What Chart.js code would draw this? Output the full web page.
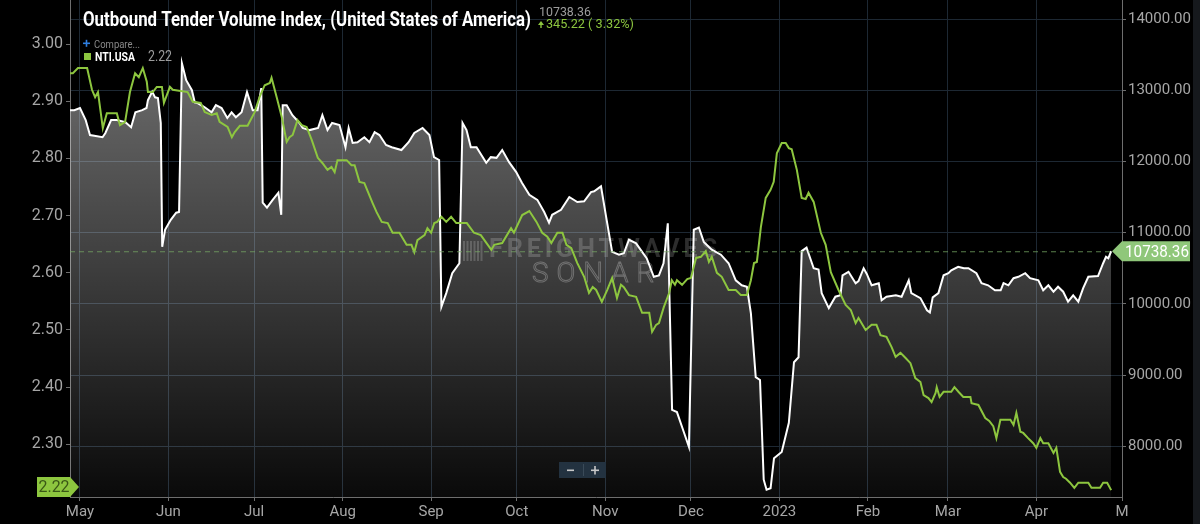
<!DOCTYPE html>
<html><head><meta charset="utf-8">
<script src="https://cdn.jsdelivr.net/npm/chart.js@4.4.1/dist/chart.umd.min.js"></script>
<style>html,body{margin:0;padding:0;background:#000;overflow:hidden}#wrap{width:1200px;height:524px;position:relative}</style>
</head><body><div id="wrap"><canvas id="c" width="1200" height="524"></canvas></div>
<script>
// Day offsets are counted from 2022-05-01
const monthTickDays = [0,31,61,92,123,153,184,214,245,276,304,335,365];
const monthTickLabels = ['May','Jun','Jul','Aug','Sep','Oct','Nov','Dec','2023','Feb','Mar','Apr','M'];
const ntiTicks = [2.3,2.4,2.5,2.6,2.7,2.8,2.9,3.0];
const otviTicks = [8000,9000,10000,11000,12000,13000,14000];

const otviDays = [-3.5,-2.0,0,2.0,3.5,5.0,7.9,8.9,10.9,12.9,
15.9,17.9,19.4,21.8,23.3,23.8,25.3,26.3,27.3,28.3,
28.8,29.8,31.8,33.7,34.7,35.7,37.2,39.2,40.2,41.2,
43.7,46.1,47.6,49.6,51.6,53.1,54.6,56.6,58.5,60.5,
62.2,63.5,64.0,65.5,67.5,69.5,70.5,71.0,72.4,74.4,
76.9,78.0,80.4,83.4,84.9,86.7,88.3,90.9,93.0,94.1,
95.5,97.2,99.6,101.4,103.2,104.9,107.2,109.2,112.6,115.1,
117.1,120.0,122.4,124.0,125.8,126.6,128.3,130.4,132.9,134.0,
135.4,136.9,138.9,142.3,143.9,145.9,147.9,150.3,152.8,154.8,
157.4,160.2,162.6,164.3,165.4,168.5,171.4,174.2,176.6,179.0,
180.1,182.5,184.3,186.4,188.8,190.5,192.3,194.8,196.9,198.5,
201.0,202.8,204.4,205.9,207.4,209.1,210.9,213.3,215.0,216.8,
218.5,221.3,224.5,227.2,229.7,231.8,233.6,235.0,236.7,238.2,
239.5,240.5,241.9,243.1,245.8,248.3,250.1,251.7,252.8,254.5,
257.0,258.7,259.8,262.3,264.6,266.4,267.1,269.2,271.7,272.7,
274.5,275.6,277.3,279.8,280.8,282.5,285.8,287.8,290.3,291.2,
294.4,296.7,297.7,298.7,300.7,302.5,304.2,305.2,307.6,309.6,
311.2,314.0,315.8,318.1,320.5,322.5,323.5,325.2,327.0,328.7,
331.1,332.8,335.7,337.4,339.2,341.0,342.6,344.4,346.1,347.9,
349.7,351.4,353.2,356.6,358.4,359.4,360.2,361.2];
const otviValues = [12720,12720,12750,12580,12370,12360,12340,12400,12580,12580,
12550,12480,12690,12720,12750,12860,12980,12900,12890,12540,
10800,11040,11180,11280,11290,13380,13140,13000,12830,12820,
12760,12690,12790,12750,12610,12690,12620,12690,12975,12720,
12720,13030,11420,11350,11460,11560,11250,12790,12790,12650,
12540,12470,12440,12470,12650,12440,12540,12510,12200,12470,
12260,12270,12340,12270,12410,12370,12230,12200,12160,12270,
12400,12470,12370,12060,12020,9960,10150,10430,10570,12540,
12440,12200,12200,11980,12060,12050,12160,11990,11850,11700,
11530,11460,11290,11140,11250,11320,11500,11430,11440,11570,
11580,11650,11220,10730,10690,10710,10900,10850,10730,10640,
10380,10400,10570,11130,8510,8480,8270,7990,11040,11070,
10870,10760,10690,10570,10330,10260,10240,9870,8970,8930,
7530,7390,7410,7830,7920,8330,9180,9250,10740,10790,
10500,10480,10150,9940,10100,10120,10400,10450,10290,10320,
10500,10420,10260,10290,10050,10100,10120,10100,10330,10150,
10080,9910,9880,10090,10150,10400,10430,10470,10520,10500,
10500,10430,10290,10260,10190,10190,10290,10260,10360,10380,
10430,10360,10330,10190,10260,10170,10240,10170,10030,10120,
10030,10220,10380,10390,10570,10660,10640,10738.36];

const ntiDays = [-3.5,-2.5,-0.7,2.5,4.2,5.3,6.3,8.0,9.4,12.9,
14.0,15.8,17.5,19.3,20.6,22.0,23.4,23.8,25.5,26.9,
28.7,29.4,31.5,32.5,37.7,39.5,42.3,43.7,46.1,47.9,
48.9,51.7,53.2,54.2,56.0,58.7,61.2,62.9,64.7,66.5,
67.1,68.9,70.7,72.4,73.4,74.5,76.2,77.7,79.4,81.2,
83.3,84.9,86.7,88.1,89.2,90.2,93.4,95.1,96.2,97.9,
99.6,102.5,103.9,105.7,107.8,109.5,111.9,114.4,116.1,117.1,
118.2,120.7,121.7,123.0,124.1,125.1,126.6,128.3,130.0,131.8,
133.5,135.5,138.0,140.4,144.1,145.1,147.9,151.0,152.0,154.9,
157.4,159.9,161.9,163.7,165.1,167.2,169.0,170.4,172.1,174.2,
176.6,178.3,179.6,180.8,182.8,184.7,186.4,188.1,189.5,190.5,
192.3,194.8,196.9,199.4,200.4,201.8,202.8,204.5,206.4,207.3,
208.4,209.1,210.9,212.7,214.0,215.8,217.5,219.2,220.3,221.3,
223.1,224.8,227.2,229.7,231.5,233.6,235.0,236.1,237.1,238.5,
240.2,241.9,243.0,244.1,245.8,247.2,248.3,249.3,251.1,252.8,
254.2,255.2,257.0,259.5,261.2,263.0,265.7,268.2,270.0,271.7,
272.7,275.2,277.3,279.0,280.4,282.5,284.3,285.7,287.4,289.2,
290.9,292.6,294.4,295.5,297.2,298.3,299.7,300.1,301.1,302.5,
305.2,306.3,307.7,309.4,311.9,312.3,314.7,317.1,318.5,319.9,
321.0,322.4,325.9,327.0,328.0,329.4,330.4,332.1,333.9,335.0,
336.4,337.4,339.2,341.0,342.0,343.3,344.4,345.4,346.8,348.3,
349.7,353.2,354.3,357.3,358.4,359.8,361.2];
const ntiValues = [2.949,2.949,2.958,2.958,2.920,2.907,2.916,2.853,2.879,2.879,
2.858,2.864,2.916,2.949,2.942,2.958,2.934,2.916,2.916,2.925,
2.925,2.897,2.925,2.920,2.916,2.899,2.897,2.881,2.876,2.879,
2.864,2.855,2.837,2.846,2.857,2.857,2.881,2.907,2.928,2.932,
2.941,2.907,2.872,2.829,2.837,2.841,2.867,2.858,2.855,2.832,
2.801,2.792,2.780,2.785,2.776,2.797,2.797,2.788,2.788,2.759,
2.757,2.722,2.706,2.689,2.687,2.670,2.670,2.649,2.649,2.636,
2.657,2.666,2.678,2.670,2.687,2.689,2.698,2.689,2.698,2.687,
2.687,2.687,2.670,2.666,2.640,2.649,2.652,2.678,2.670,2.701,
2.708,2.689,2.670,2.663,2.652,2.670,2.670,2.649,2.643,2.617,
2.593,2.565,2.575,2.570,2.549,2.570,2.591,2.556,2.579,2.575,
2.561,2.558,2.530,2.530,2.497,2.509,2.512,2.540,2.565,2.587,
2.579,2.587,2.579,2.589,2.591,2.626,2.628,2.638,2.619,2.628,
2.600,2.593,2.570,2.570,2.561,2.561,2.587,2.617,2.619,2.680,
2.731,2.745,2.759,2.809,2.827,2.827,2.818,2.816,2.780,2.731,
2.729,2.740,2.724,2.670,2.649,2.601,2.570,2.544,2.535,2.512,
2.521,2.500,2.509,2.509,2.491,2.488,2.470,2.453,2.460,2.451,
2.442,2.416,2.409,2.386,2.381,2.374,2.390,2.400,2.383,2.392,
2.392,2.400,2.392,2.383,2.383,2.372,2.369,2.346,2.341,2.332,
2.311,2.343,2.343,2.334,2.355,2.322,2.320,2.311,2.302,2.294,
2.311,2.302,2.302,2.285,2.294,2.252,2.243,2.240,2.233,2.224,
2.233,2.233,2.224,2.224,2.233,2.233,2.220];

const titleText = 'Outbound Tender Volume Index, (United States of America)';
const headerValue = '10738.36';
const headerChange = '345.22 ( 3.32%)';
const ntiLabel = 'NTI.USA';

const FONT = "Roboto,'DejaVu Sans Condensed',sans-serif";
const GREEN = '#8dc63f';
const GRID = '#1d2833';
const AXIS = '#6e6e6e';
const TICKTXT = '#a6a6a6';

const otviLast = otviValues[otviValues.length - 1];
const ntiLast = ntiValues[ntiValues.length - 1];

const decor = {
  id: 'decor',
  beforeDraw(chart) {
    const c = chart.ctx;
    c.save(); c.fillStyle = '#000'; c.fillRect(0, 0, chart.width, chart.height); c.restore();
  },
  beforeDatasetsDraw(chart) {
    const c = chart.ctx, a = chart.chartArea;
    const cx = a.left + (a.right - a.left) * 0.5;
    const cy = a.top + (a.bottom - a.top) * 0.505;
    c.save();
    c.textAlign = 'left'; c.textBaseline = 'middle';
    c.fillStyle = 'rgba(150,150,150,0.30)';
    for (let i = 0; i < 6; i++) c.fillRect(cx - 133 + i * 3.5, cy - 10, 2, 20);
    c.font = `bold 25px ${FONT}`;
    c.letterSpacing = '4px';
    c.fillText('FREIGHTWAVES', cx - 107, cy, 240);
    c.font = `300 28px ${FONT}`;
    c.letterSpacing = '8px';
    c.strokeStyle = 'rgba(150,150,150,0.45)';
    c.lineWidth = 1;
    c.strokeText('SONAR', cx - 64, cy + 24, 130);
    c.restore();
  },
  afterDraw(chart) {
    const c = chart.ctx, a = chart.chartArea;
    const yR = chart.scales.yR, yL = chart.scales.yL;
    c.save();
    // last value dashed line
    const yo = yR.getPixelForValue(otviLast);
    c.setLineDash([5, 4]);
    c.strokeStyle = 'rgba(120,170,100,0.75)';
    c.lineWidth = 1;
    c.beginPath(); c.moveTo(a.left, yo + 0.5); c.lineTo(a.right - 10, yo + 0.5); c.stroke();
    c.setLineDash([]);
    // right tag
    c.fillStyle = '#8fc77a';
    c.beginPath();
    c.moveTo(a.right - 10, yo); c.lineTo(a.right, yo - 10); c.lineTo(a.right + 68, yo - 10);
    c.lineTo(a.right + 68, yo + 10); c.lineTo(a.right, yo + 10); c.closePath(); c.fill();
    c.fillStyle = '#ffffff'; c.font = `17px ${FONT}`; c.textAlign = 'left'; c.textBaseline = 'middle';
    c.fillText(otviLast.toFixed(2), a.right + 3, yo + 1, 64);
    // left tag
    const yn = Math.min(yL.getPixelForValue(ntiLast), a.bottom - 10);
    c.fillStyle = GREEN;
    c.beginPath();
    c.moveTo(37, yn - 10); c.lineTo(a.left, yn - 10); c.lineTo(a.left + 9, yn);
    c.lineTo(a.left, yn + 10); c.lineTo(37, yn + 10); c.closePath(); c.fill();
    c.fillStyle = '#3a5716'; c.font = `17px ${FONT}`; c.textAlign = 'center';
    c.fillText(ntiLast.toFixed(2), 54, yn + 1, 31);
    // title
    c.textAlign = 'left'; c.textBaseline = 'alphabetic';
    c.fillStyle = '#ffffff'; c.font = `bold 21px ${FONT}`;
    c.fillText(titleText, 83, 26, 448);
    c.fillStyle = '#9c9c9c'; c.font = `13px ${FONT}`;
    c.fillText(headerValue, 539, 16, 52);
    c.fillStyle = GREEN;
    c.beginPath(); c.moveTo(541, 21); c.lineTo(544, 25); c.lineTo(538, 25); c.closePath(); c.fill();
    c.fillRect(540.3, 25, 1.4, 3);
    c.font = `13px ${FONT}`;
    c.fillText(headerChange, 546, 28, 88);
    // legend
    c.fillStyle = '#2f7fe0'; c.fillRect(83, 42.5, 7, 1.6); c.fillRect(85.7, 39.8, 1.6, 7);
    c.fillStyle = '#8a8a8a'; c.font = `11.5px ${FONT}`;
    c.fillText('Compare...', 94, 48, 46);
    c.fillStyle = GREEN; c.fillRect(84, 53, 7, 7);
    c.fillStyle = '#ffffff'; c.font = `bold 12px ${FONT}`;
    c.fillText(ntiLabel, 95, 61, 40);
    c.fillStyle = '#9c9c9c'; c.font = `14px ${FONT}`;
    c.fillText(ntiLast.toFixed(2), 148, 61, 24);
    // zoom buttons
    c.fillStyle = '#233240'; c.fillRect(559, 462, 47, 16);
    c.fillStyle = '#3a4a58'; c.fillRect(583, 464, 1, 12);
    c.fillStyle = '#c8c8c8';
    c.fillRect(567, 469.5, 7, 1.6);
    c.fillRect(591, 469.5, 8, 1.6); c.fillRect(594.2, 466, 1.6, 8.5);
    // right strip
    c.fillStyle = '#16191d'; c.fillRect(1193, 0, 7, chart.height);
    c.restore();
  }
};

const otviPoints = otviDays.map((d, i) => ({ x: d, y: otviValues[i] }));
const ntiPoints = ntiDays.map((d, i) => ({ x: d, y: ntiValues[i] }));

new Chart(document.getElementById('c'), {
  type: 'line',
  data: {
    datasets: [
      { label: 'NTI.USA', data: ntiPoints, yAxisID: 'yL', borderColor: GREEN, borderWidth: 2,
        pointRadius: 0, fill: false, tension: 0 },
      { label: 'OTVI.USA', data: otviPoints, yAxisID: 'yR', borderColor: '#ffffff', borderWidth: 2,
        pointRadius: 0, tension: 0, fill: { target: 'start' },
        backgroundColor: (ctx) => {
          const ch = ctx.chart, a = ch.chartArea;
          if (!a) return 'rgba(255,255,255,0.2)';
          const g = ch.ctx.createLinearGradient(0, a.top, 0, a.bottom);
          g.addColorStop(0, 'rgba(255,255,255,0.48)');
          g.addColorStop(1, 'rgba(255,255,255,0.04)');
          return g;
        } }
    ]
  },
  options: {
    responsive: false, animation: false,
    layout: { padding: 0 },
    plugins: { legend: { display: false }, tooltip: { enabled: false } },
    scales: {
      x: {
        type: 'linear', min: -3.5, max: 365,
        afterBuildTicks: (s) => { s.ticks = monthTickDays.map(v => ({ value: v })); },
        afterFit: (s) => { s.height = 27; s.paddingLeft = 0; s.paddingRight = 0; },
        ticks: { autoSkip: false, maxRotation: 0, color: TICKTXT, padding: 2,
          font: { family: FONT, size: 15 },
          callback: (v) => { const i = monthTickDays.indexOf(v); return i >= 0 ? monthTickLabels[i] : ''; } },
        grid: { color: GRID, tickColor: AXIS, tickLength: 4 },
        border: { color: AXIS }
      },
      yL: {
        type: 'linear', position: 'left', min: 2.208, max: 3.077,
        afterBuildTicks: (s) => { s.ticks = ntiTicks.map(v => ({ value: v })); },
        afterFit: (s) => { s.width = 70; s.paddingTop = 0; s.paddingBottom = 0; },
        ticks: { color: TICKTXT, padding: 3, font: { family: FONT, size: 16 },
          callback: (v) => Number(v).toFixed(2) },
        grid: { drawOnChartArea: false, tickColor: AXIS, tickLength: 4 },
        border: { color: AXIS }
      },
      yR: {
        type: 'linear', position: 'right', min: 7287, max: 14267,
        afterBuildTicks: (s) => { s.ticks = otviTicks.map(v => ({ value: v })); },
        afterFit: (s) => { s.width = 78; s.paddingTop = 0; s.paddingBottom = 0; },
        ticks: { color: TICKTXT, padding: 2, font: { family: FONT, size: 15 },
          callback: (v) => Number(v).toFixed(2) },
        grid: { color: GRID, tickColor: AXIS, tickLength: 4 },
        border: { color: AXIS }
      }
    }
  },
  plugins: [decor]
});
</script>
</body></html>
